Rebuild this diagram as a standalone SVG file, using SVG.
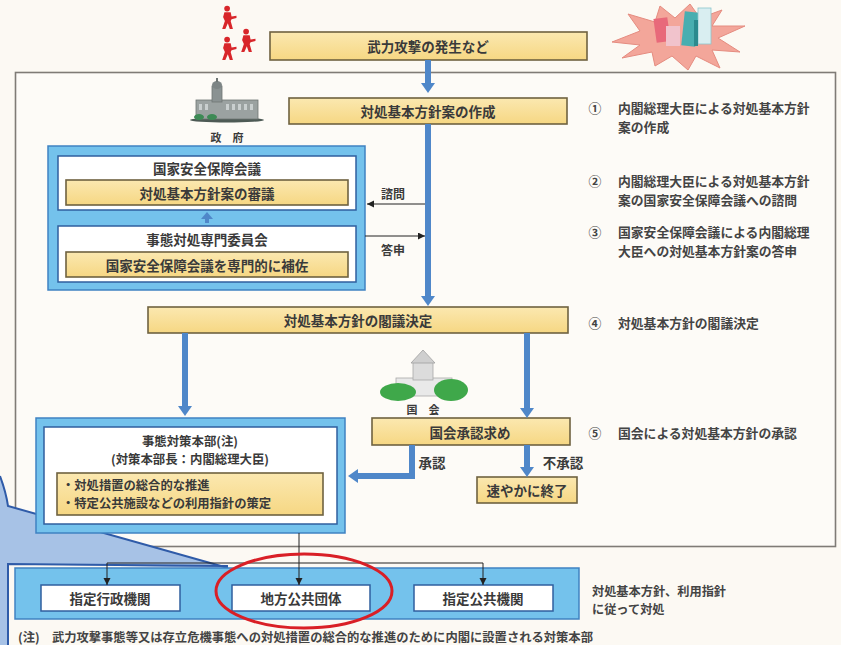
<svg xmlns="http://www.w3.org/2000/svg" xmlns:xlink="http://www.w3.org/1999/xlink" width="841" height="645" viewBox="0 0 841 645">
  <style>
    text { font-family: "Noto Sans CJK JP", "Noto Sans", sans-serif; font-weight: bold; fill: #3a3a3a; }
    .lbl { font-size: 13.5px; text-anchor: middle; dominant-baseline: central; }
    .note { font-size: 12.8px; dominant-baseline: central; fill: #444; }
    .bullet { font-size: 12.3px; dominant-baseline: central; fill: #3a3a3a; }
    .small { font-size: 12.2px; dominant-baseline: central; fill: #444; }
    .yellow { fill: url(#yg); stroke: #6f6240; stroke-width: 1.6; }
    .sky { fill: #74c2ec; stroke: #3f82c2; stroke-width: 1.5; }
    .white { fill: #ffffff; stroke: #2f5f9e; stroke-width: 1.5; }
    .flow { stroke: #4f87c9; stroke-width: 6; fill: none; }
    .thin { stroke: #222; stroke-width: 1; fill: none; }
  </style>
  <defs>
    <linearGradient id="yg" x1="0" y1="0" x2="0" y2="1">
      <stop offset="0" stop-color="#fbe8b0"/>
      <stop offset="1" stop-color="#f6d783"/>
    </linearGradient>
    <marker id="bigArrow" markerUnits="userSpaceOnUse" markerWidth="12" markerHeight="16" refX="3" refY="7" orient="auto">
      <path d="M0,0 L10,7 L0,14 Z" fill="#4f87c9"/>
    </marker>
    <marker id="smallArrow" markerUnits="userSpaceOnUse" markerWidth="9" markerHeight="9" refX="7" refY="3.5" orient="auto">
      <path d="M0,0 L7,3.5 L0,7 Z" fill="#222"/>
    </marker>
    <symbol id="soldier" viewBox="0 0 20 28">
      <circle cx="9" cy="4" r="3.2"/>
      <path d="M6 8 L13 8 L14 13 L19.5 12 L19.5 14.5 L14 16 L13 18 L15.5 27 L12 27 L9.8 20.5 L7 27 L3.5 27 L6.5 18 L4.5 13.5 Z"/>
    </symbol>
  </defs>

  <!-- paper -->
  <rect x="0" y="0" width="841" height="645" fill="#fcf9f3"/>

  <!-- main frame -->
  <rect x="15.5" y="72.5" width="820" height="474" fill="#fdfbf7" stroke="#7f7b76" stroke-width="1.6"/>

  <!-- magnified callout shape from the left -->
  <g id="callout">
    <path d="M0,476 Q6,492 8,506 L228,568 L8,564 L8,645 L0,645 Z" fill="#a7c2e6"/>
    <path d="M0,476 Q6,492 8,506 L228,568" fill="none" stroke="#2f5ba8" stroke-width="2"/>
    <path d="M8,645 L8,564 L228,566" fill="none" stroke="#2f5ba8" stroke-width="2"/>
  </g>

  <!-- illustrations -->
  <g id="attackers" fill="#d8262a">
    <use xlink:href="#soldier" x="219" y="5" width="18" height="25"/>
    <use xlink:href="#soldier" x="238" y="28" width="18" height="25"/>
    <use xlink:href="#soldier" x="219" y="36" width="18" height="25"/>
  </g>
  <g id="explosion">
    <polygon points="612,42 640,31 628,14 655,22 660,6 675,18 690,4 700,18 722,10 712,26 745,26 718,38 740,52 712,50 720,68 696,56 688,70 672,56 655,66 652,52 622,58 640,45" fill="#f3a69a" stroke="#e58c80" stroke-width="1"/>
    <rect x="655" y="18" width="14" height="24" fill="#e8697a" transform="rotate(-8 662 30)"/>
    <rect x="666" y="26" width="14" height="20" fill="#f1c3cc"/>
    <rect x="683" y="12" width="14" height="34" fill="#48aeb0" transform="rotate(6 690 29)"/>
    <rect x="698" y="8" width="13" height="36" fill="#d9eef1" stroke="#8cc6cc" stroke-width="0.8"/>
    <rect x="694" y="20" width="4" height="26" fill="#2b8a8e"/>
  </g>
  <g id="government-building">
    <ellipse cx="227" cy="120" rx="37" ry="2.5" fill="#4d5a55"/>
    <rect x="196" y="100" width="62" height="19" fill="#9ba2a1" stroke="#6e7574" stroke-width="0.8"/>
    <rect x="212" y="86" width="10" height="16" fill="#8a9292" stroke="#6e7574" stroke-width="0.8"/>
    <ellipse cx="217" cy="85" rx="5" ry="4" fill="#7d8585"/>
    <rect x="216" y="78" width="2" height="4" fill="#6e7574"/>
    <g fill="#c9cfcf">
      <rect x="199" y="104" width="3" height="6"/><rect x="205" y="104" width="3" height="6"/>
      <rect x="226" y="104" width="3" height="6"/><rect x="232" y="104" width="3" height="6"/>
      <rect x="238" y="104" width="3" height="6"/><rect x="244" y="104" width="3" height="6"/>
      <rect x="250" y="104" width="3" height="6"/>
    </g>
    <ellipse cx="199" cy="117" rx="5" ry="3" fill="#3d8a55"/>
    <ellipse cx="212" cy="117" rx="5" ry="3" fill="#3d8a55"/>
    <text x="227" y="137" class="lbl" style="font-size:11px">政　府</text>
  </g>
  <g id="diet-building">
    <rect x="396" y="378" width="56" height="18" fill="#e9e9e9" stroke="#a9a9a9" stroke-width="0.8"/>
    <rect x="413" y="362" width="20" height="18" fill="#dcdcdc" stroke="#a9a9a9" stroke-width="0.8"/>
    <polygon points="411,363 423,350 435,363" fill="#cfcfcf" stroke="#a0a0a0" stroke-width="0.8"/>
    <ellipse cx="398" cy="392" rx="18" ry="9" fill="#3fa84a"/>
    <ellipse cx="451" cy="390" rx="17" ry="11" fill="#3fa84a"/>
    <text x="423" y="409" class="lbl" style="font-size:11px">国　会</text>
  </g>

  <!-- nodes -->
  <g id="attack">
    <rect x="270" y="32" width="317" height="28" class="yellow"/>
    <text x="428" y="46" class="lbl">武力攻撃の発生など</text>
  </g>
  <g id="draft">
    <rect x="289" y="98" width="278" height="26" class="yellow"/>
    <text x="428" y="111" class="lbl">対処基本方針案の作成</text>
  </g>
  <g id="nsc">
    <rect x="48" y="146" width="317" height="144" class="sky"/>
    <rect x="58" y="156" width="298" height="54" class="white"/>
    <text x="207" y="168" class="lbl">国家安全保障会議</text>
    <rect x="66" y="180" width="282" height="25" class="yellow"/>
    <text x="207" y="193" class="lbl">対処基本方針案の審議</text>
    <rect x="58" y="226" width="298" height="56" class="white"/>
    <text x="207" y="239" class="lbl">事態対処専門委員会</text>
    <rect x="66" y="252" width="282" height="25" class="yellow"/>
    <text x="207" y="265" class="lbl">国家安全保障会議を専門的に補佐</text>
    <path d="M207,223 L207,218" stroke="#4f87c9" stroke-width="4"/>
    <polygon points="201,219 207,212 213,219" fill="#4f87c9"/>
  </g>
  <g id="cabinet-decision">
    <rect x="148" y="307" width="420" height="26" class="yellow"/>
    <text x="358" y="320" class="lbl">対処基本方針の閣議決定</text>
  </g>
  <g id="diet-approval">
    <rect x="372" y="418" width="198" height="27" class="yellow"/>
    <text x="470" y="432" class="lbl">国会承認求め</text>
  </g>
  <g id="terminate">
    <rect x="477" y="477" width="100" height="26" class="yellow"/>
    <text x="527" y="490" class="lbl">速やかに終了</text>
  </g>
  <g id="hq">
    <rect x="36" y="418" width="309" height="115" class="sky"/>
    <rect x="44" y="427" width="293" height="97" class="white"/>
    <text x="190" y="441" class="lbl" style="font-size:12.4px">事態対策本部(注)</text>
    <text x="190" y="459" class="lbl" style="font-size:12.4px">(対策本部長：内閣総理大臣)</text>
    <rect x="57" y="473" width="266" height="42" class="yellow"/>
    <text x="62" y="485" class="bullet">・対処措置の総合的な推進</text>
    <text x="62" y="503" class="bullet">・特定公共施設などの利用指針の策定</text>
  </g>
  <g id="implementers">
    <rect x="15" y="568" width="564" height="51" class="sky"/>
    <g id="designated-admin">
      <rect x="41" y="585" width="139" height="26" class="white"/>
      <text x="110" y="598" class="lbl">指定行政機関</text>
    </g>
    <g id="local-gov">
      <rect x="232" y="585" width="138" height="26" class="white"/>
      <text x="301" y="598" class="lbl">地方公共団体</text>
    </g>
    <g id="designated-public">
      <rect x="414" y="585" width="139" height="26" class="white"/>
      <text x="483" y="598" class="lbl">指定公共機関</text>
    </g>
  </g>

  <!-- connectors -->
  <g id="connectors">
    <line x1="428" y1="60" x2="428" y2="86" class="flow" marker-end="url(#bigArrow)"/>
    <line x1="428" y1="124" x2="428" y2="299" class="flow" marker-end="url(#bigArrow)"/>
    <line x1="185" y1="333" x2="185" y2="409" class="flow" marker-end="url(#bigArrow)"/>
    <line x1="527" y1="333" x2="527" y2="411" class="flow" marker-end="url(#bigArrow)"/>
    <path d="M412,445 L412,476 L355,476" class="flow" marker-end="url(#bigArrow)"/>
    <line x1="527" y1="445" x2="527" y2="470" class="flow" marker-end="url(#bigArrow)"/>
    <line x1="425" y1="204" x2="367" y2="204" class="thin" marker-end="url(#smallArrow)"/>
    <line x1="365" y1="236" x2="425" y2="236" class="thin" marker-end="url(#smallArrow)"/>
    <line x1="299" y1="533" x2="299" y2="585" class="thin" marker-end="url(#smallArrow)"/>
    <path d="M107,563 L483,563" class="thin"/>
    <line x1="107" y1="563" x2="107" y2="585" class="thin" marker-end="url(#smallArrow)"/>
    <line x1="483" y1="563" x2="483" y2="585" class="thin" marker-end="url(#smallArrow)"/>
  </g>

  <!-- connector labels -->
  <text x="393" y="193" class="lbl" style="font-size:12px">諮問</text>
  <text x="393" y="249" class="lbl" style="font-size:12px">答申</text>
  <text x="432" y="462" class="lbl">承認</text>
  <text x="563" y="462" class="lbl">不承認</text>

  <!-- highlight on local governments -->
  <ellipse cx="304" cy="591" rx="88" ry="37" fill="none" stroke="#d91f26" stroke-width="3"/>

  <!-- step notes -->
  <g id="notes">
    <text x="595" y="107" class="note" text-anchor="middle">①</text>
    <text x="618" y="107" class="note">内閣総理大臣による対処基本方針</text>
    <text x="618" y="126" class="note">案の作成</text>
    <text x="595" y="180" class="note" text-anchor="middle">②</text>
    <text x="618" y="180" class="note">内閣総理大臣による対処基本方針</text>
    <text x="618" y="199" class="note">案の国家安全保障会議への諮問</text>
    <text x="595" y="231" class="note" text-anchor="middle">③</text>
    <text x="618" y="231" class="note">国家安全保障会議による内閣総理</text>
    <text x="618" y="250" class="note">大臣への対処基本方針案の答申</text>
    <text x="595" y="322" class="note" text-anchor="middle">④</text>
    <text x="618" y="322" class="note">対処基本方針の閣議決定</text>
    <text x="595" y="432" class="note" text-anchor="middle">⑤</text>
    <text x="618" y="432" class="note">国会による対処基本方針の承認</text>
    <text x="592" y="591" class="small">対処基本方針、利用指針</text>
    <text x="592" y="609" class="small">に従って対処</text>
  </g>

  <!-- footnote -->
  <text x="18" y="637" class="small" style="font-size:12.3px">(注)　武力攻撃事態等又は存立危機事態への対処措置の総合的な推進のために内閣に設置される対策本部</text>
</svg>
